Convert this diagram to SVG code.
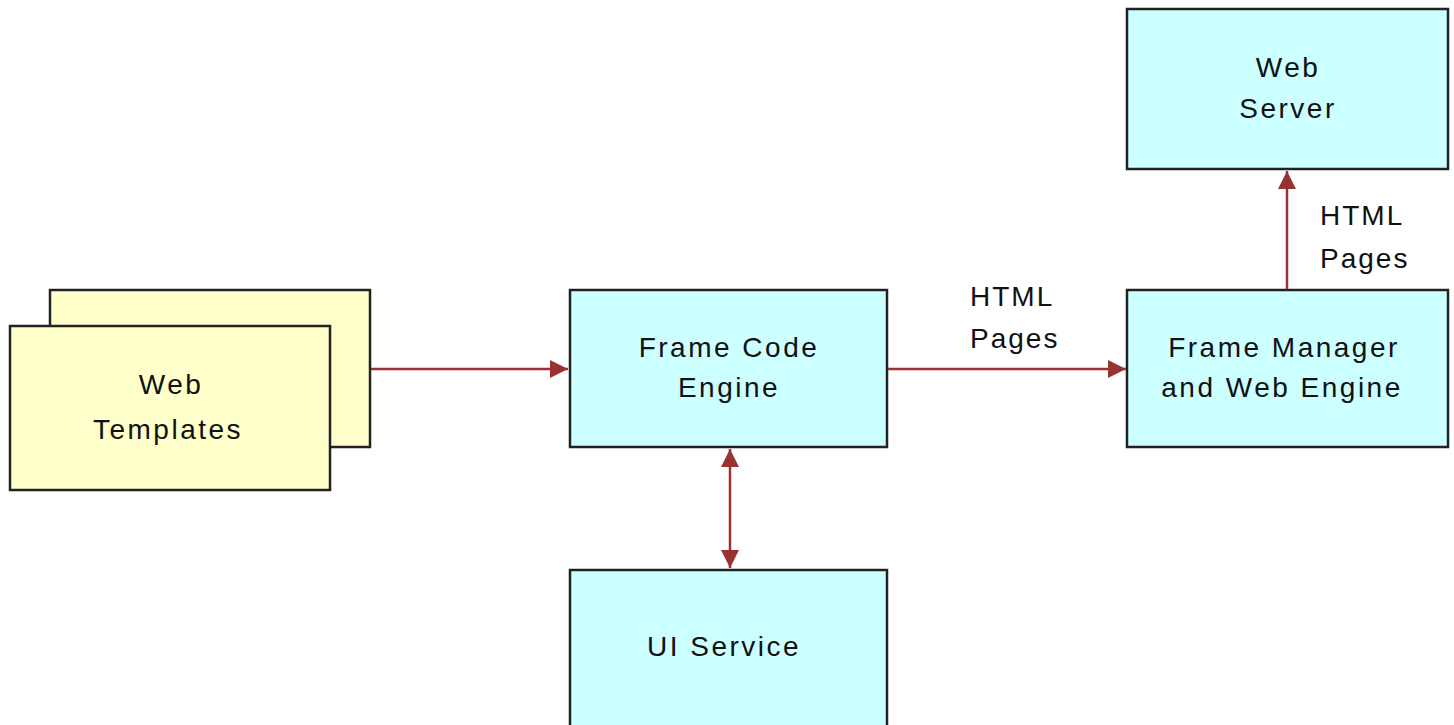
<svg xmlns="http://www.w3.org/2000/svg" width="1454" height="725" viewBox="0 0 1454 725">
<defs>
<style>
.box{stroke:#222;stroke-width:2.5}
.cy{fill:#CCFFFF}
.ye{fill:#FFFFCC}
.t{font-family:"Liberation Sans",Arial,sans-serif;font-size:28px;fill:#111;text-anchor:middle;letter-spacing:2.5px}
.tl{font-family:"Liberation Sans",Arial,sans-serif;font-size:28px;fill:#111;letter-spacing:2px}
.c{stroke:#993333;stroke-width:2.5;fill:none}
</style>
<marker id="ah" viewBox="0 0 10 10" refX="10" refY="5" markerWidth="22" markerHeight="18" markerUnits="userSpaceOnUse" orient="auto-start-reverse">
<path d="M0,0 L10,5 L0,10 Z" fill="#993333"/>
</marker>
</defs>
<rect width="1454" height="725" fill="#fff"/>
<g id="web-templates">
<rect class="box ye" x="50" y="290" width="320" height="157"/>
<rect class="box ye" x="10" y="326" width="320" height="164"/>
<text class="t" x="171" y="394">Web</text>
<text class="t" x="168" y="439">Templates</text>
</g>
<g id="frame-code-engine">
<rect class="box cy" x="570" y="290" width="317" height="157"/>
<text class="t" x="729" y="357">Frame Code</text>
<text class="t" x="729" y="397">Engine</text>
</g>
<g id="frame-manager">
<rect class="box cy" x="1127" y="290" width="321" height="157"/>
<text class="t" x="1284" y="357">Frame Manager</text>
<text class="t" x="1282" y="397">and Web Engine</text>
</g>
<g id="web-server">
<rect class="box cy" x="1127" y="9" width="321" height="160"/>
<text class="t" x="1288" y="77">Web</text>
<text class="t" x="1288" y="118">Server</text>
</g>
<g id="ui-service">
<rect class="box cy" x="570" y="570" width="317" height="170"/>
<text class="t" x="724" y="656">UI Service</text>
</g>
<g id="connectors">
<line class="c" x1="371" y1="369" x2="568" y2="369" marker-end="url(#ah)"/>
<line class="c" x1="888" y1="369" x2="1126" y2="369" marker-end="url(#ah)"/>
<line class="c" x1="1287" y1="289" x2="1287" y2="171" marker-end="url(#ah)"/>
<line class="c" x1="730" y1="449" x2="730" y2="568" marker-start="url(#ah)" marker-end="url(#ah)"/>
<text class="tl" x="970" y="306">HTML</text>
<text class="tl" x="970" y="348">Pages</text>
<text class="tl" x="1320" y="225">HTML</text>
<text class="tl" x="1320" y="268">Pages</text>
</g>
</svg>
